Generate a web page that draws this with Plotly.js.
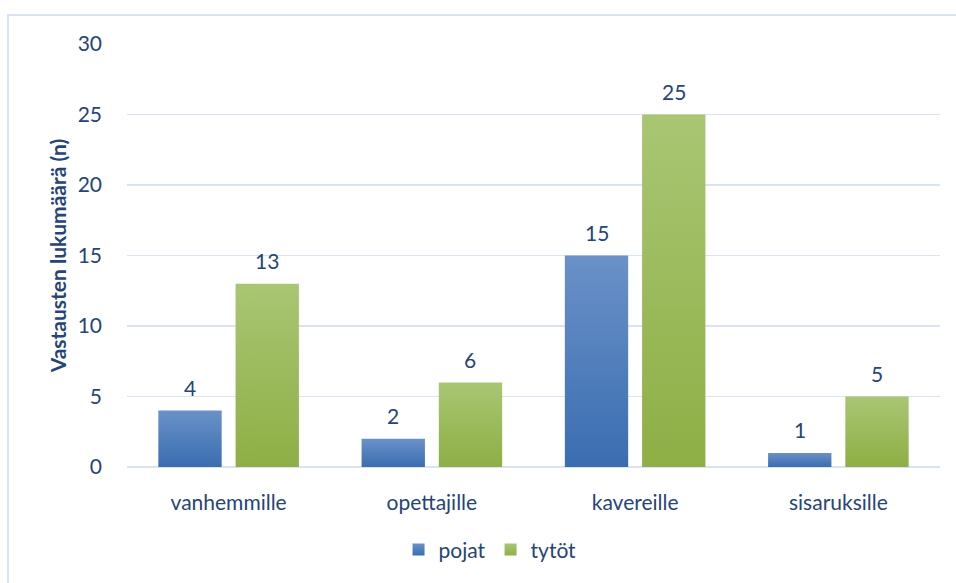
<!DOCTYPE html>
<html>
<head>
<meta charset="utf-8">
<script src="https://cdn.plot.ly/plotly-3.0.1.min.js"></script>
<style>html,body{margin:0;padding:0;background:#fff;}#chart{width:956px;height:583px;}</style>
</head>
<body>
<div id="chart"></div>
<script>
const categories = ["vanhemmille", "opettajille", "kavereille", "sisaruksille"];
const pojat = [4, 2, 15, 1];
const tytot = [13, 6, 25, 5];
const seriesNames = ["pojat", "tytöt"];
const yTicks = [0, 5, 10, 15, 20, 25, 30];

const textColor = "#264478";
const fontFamily = "Lato, 'Open Sans', sans-serif";
const gradients = [["#6A91C8", "#3A6DB0"], ["#A9C673", "#8DAF45"]];

const traces = [
  {type: "bar", name: seriesNames[0], x: categories, y: pojat,
   marker: {color: "#4F81BD"}, hoverinfo: "none"},
  {type: "bar", name: seriesNames[1], x: categories, y: tytot,
   marker: {color: "#9BBB59"}, hoverinfo: "none"}
];

const annotations = [];
[pojat, tytot].forEach((vals, si) => {
  vals.forEach((v, i) => {
    annotations.push({
      x: categories[i], y: v, xref: "x", yref: "y",
      text: String(v), showarrow: false,
      xshift: si === 0 ? -38.5 : 38.5, yshift: 23,
      yanchor: "middle",
      font: {family: fontFamily, size: 21, color: textColor}
    });
  });
});

const layout = {
  width: 956, height: 583,
  margin: {l: 127, r: 16, t: 44, b: 116},
  paper_bgcolor: "#fff", plot_bgcolor: "#fff",
  barmode: "group", bargap: 0.24, bargroupgap: 0.18,
  font: {family: fontFamily, color: textColor, size: 21},
  showlegend: true,
  legend: {orientation: "h", x: 0.334, xanchor: "left", y: -0.196, yanchor: "middle",
           font: {family: fontFamily, size: 21, color: textColor}},
  xaxis: {type: "category", showgrid: false, zeroline: false, showline: false,
          ticks: "", ticklabelstandoff: 21,
          tickfont: {family: fontFamily, size: 21, color: textColor}},
  yaxis: {range: [0, 30], tickvals: yTicks, ticktext: yTicks.map(String),
          showgrid: true, gridcolor: "#D9E3F2", gridwidth: 1.5,
          zeroline: true, zerolinecolor: "#D9E3F2", zerolinewidth: 1.5,
          showline: false, ticks: "", ticklabelstandoff: 24,
          tickfont: {family: fontFamily, size: 21, color: textColor},
          title: {text: "<b>Vastausten lukumäärä (n)</b>", standoff: 5,
                  font: {family: fontFamily, size: 21, color: textColor}}},
  annotations: annotations,
  shapes: [{type: "rect", xref: "paper", yref: "paper",
            x0: (8 - 127) / 813, x1: 1.2, y0: -0.5, y1: (467 - 15) / 423,
            line: {color: "#D9E3F2", width: 2}, fillcolor: "rgba(0,0,0,0)", layer: "below"}]
};

Plotly.newPlot("chart", traces, layout, {displayModeBar: false, staticPlot: true}).then(gd => {
  const svg = gd.querySelector("svg.main-svg");
  const ns = "http://www.w3.org/2000/svg";
  const defs = document.createElementNS(ns, "defs");
  gradients.forEach((g, i) => {
    const lg = document.createElementNS(ns, "linearGradient");
    lg.setAttribute("id", "barGrad" + i);
    lg.setAttribute("x1", "0"); lg.setAttribute("y1", "0");
    lg.setAttribute("x2", "0"); lg.setAttribute("y2", "1");
    [[0, g[0]], [1, g[1]]].forEach(([o, c]) => {
      const st = document.createElementNS(ns, "stop");
      st.setAttribute("offset", o); st.setAttribute("stop-color", c);
      lg.appendChild(st);
    });
    defs.appendChild(lg);
  });
  svg.insertBefore(defs, svg.firstChild);
  gd.querySelectorAll(".barlayer .trace").forEach((t, i) => {
    t.querySelectorAll("path").forEach(p => { p.style.fill = "url(#barGrad" + i + ")"; });
  });
  gd.querySelectorAll(".legend .traces").forEach((t, i) => {
    t.querySelectorAll(".legendpoints path").forEach(p => { p.style.fill = "url(#barGrad" + i + ")"; });
  });
});
</script>
</body>
</html>
